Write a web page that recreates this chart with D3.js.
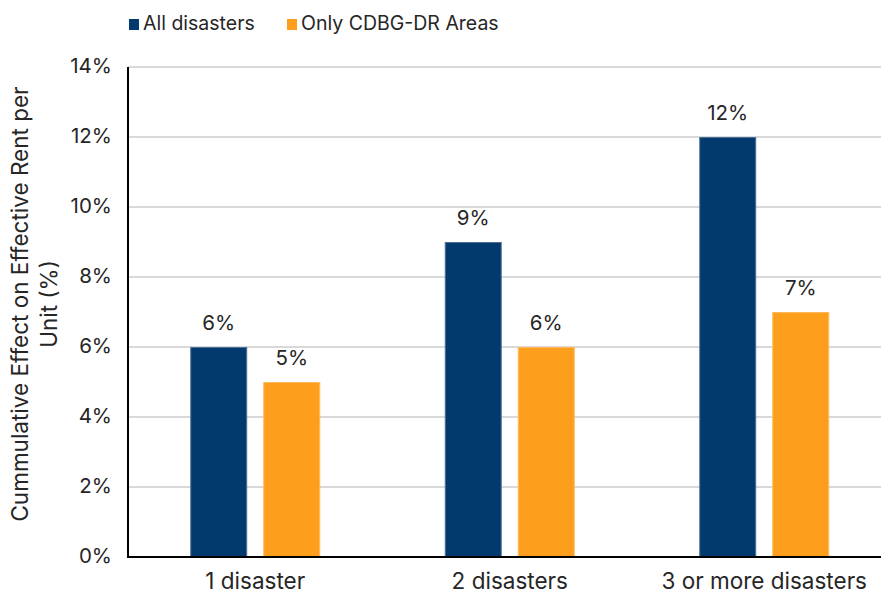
<!DOCTYPE html>
<html>
<head>
<meta charset="utf-8">
<script src="https://cdn.jsdelivr.net/npm/d3@7/dist/d3.min.js"></script>
<style>
  html, body { margin: 0; padding: 0; background: #fff; }
  svg { display: block; font-family: Inter, "Noto Sans", sans-serif; }
</style>
</head>
<body>
<svg id="chart" width="881" height="594"></svg>
<script>
const categories = ["1 disaster", "2 disasters", "3 or more disasters"];
const seriesNames = ["All disasters", "Only CDBG-DR Areas"];
const allDisasters = [6, 9, 12];
const onlyCDBG = [5, 6, 7];
const yTicks = [0, 2, 4, 6, 8, 10, 12, 14];
const colors = ["#023a6d", "#fd9e1c"];
const strokeColors = ["#4d7096", "#ffb85c"];
const yTitleLines = ["Cummulative Effect on Effective Rent per", "Unit (%)"];

(function () {
const svg = d3.select("#chart");
const mLeft = 128, mRight = 881, mTop = 67, mBottom = 557;
const step = 254.5;
const textColor = "#262626";

const x = d3.scaleBand().domain(categories).range([mLeft, mLeft + step * categories.length]).padding(0);
const y = d3.scaleLinear().domain([0, 14]).range([mBottom, mTop]);
const xs = d3.scaleBand().domain(seriesNames).range([-65, 65]).paddingInner(0.22).paddingOuter(0);

const values = [allDisasters, onlyCDBG];

// gridlines
svg.append("g").selectAll("line").data(yTicks.filter(d => d > 0)).join("line")
  .attr("x1", mLeft).attr("x2", mRight)
  .attr("y1", d => y(d)).attr("y2", d => y(d))
  .attr("stroke", "#d9d9d9").attr("stroke-width", 2);

// y tick labels
svg.append("g").selectAll("text").data(yTicks).join("text")
  .attr("x", 112).attr("y", d => y(d) + 5.5)
  .attr("text-anchor", "end")
  .attr("font-size", 20.5).attr("fill", textColor)
  .text(d => d + "%");

// bars
const groups = svg.append("g").selectAll("g").data(categories).join("g")
  .attr("transform", d => `translate(${x(d) + x.bandwidth() / 2},0)`);

groups.each(function(cat, ci) {
  const g = d3.select(this);
  seriesNames.forEach((s, si) => {
    const v = values[si][ci];
    g.append("rect")
      .attr("x", xs(s) + 0.5).attr("width", xs.bandwidth() - 1)
      .attr("y", y(v) + 0.5).attr("height", y(0) - y(v) - 0.5)
      .attr("fill", colors[si])
      .attr("stroke", strokeColors[si]).attr("stroke-width", 1);
    g.append("text")
      .attr("x", xs(s) + xs.bandwidth() / 2)
      .attr("y", y(v) - 17)
      .attr("text-anchor", "middle")
      .attr("font-size", 20.5).attr("fill", textColor)
      .text(v + "%");
  });
});

// axes lines
svg.append("line").attr("x1", mLeft).attr("x2", mLeft).attr("y1", mTop).attr("y2", mBottom)
  .attr("stroke", "#000").attr("stroke-width", 2);
svg.append("line").attr("x1", mLeft - 1).attr("x2", mRight).attr("y1", mBottom).attr("y2", mBottom)
  .attr("stroke", "#000").attr("stroke-width", 2);

// category labels
svg.append("g").selectAll("text").data(categories).join("text")
  .attr("x", d => x(d) + x.bandwidth() / 2).attr("y", 589)
  .attr("text-anchor", "middle")
  .attr("font-size", 22.5).attr("fill", textColor)
  .text(d => d);

// y title
const yt = svg.append("text")
  .attr("transform", `translate(0, 304) rotate(-90)`)
  .attr("text-anchor", "middle")
  .attr("font-size", 22.5).attr("fill", textColor);
yTitleLines.forEach((t, i) => {
  yt.append("tspan").attr("x", 0).attr("y", 28 + i * 29).text(t);
});

// legend
const legendItems = [{ name: seriesNames[0], sx: 129 }, { name: seriesNames[1], sx: 287 }];
const lg = svg.append("g");
legendItems.forEach((it, i) => {
  lg.append("rect").attr("x", it.sx).attr("y", 19).attr("width", 10).attr("height", 11).attr("fill", colors[i]);
  lg.append("text").attr("x", it.sx + 14).attr("y", 30)
    .attr("font-size", 19.5).attr("fill", textColor).text(it.name);
});
})();
</script>
</body>
</html>
